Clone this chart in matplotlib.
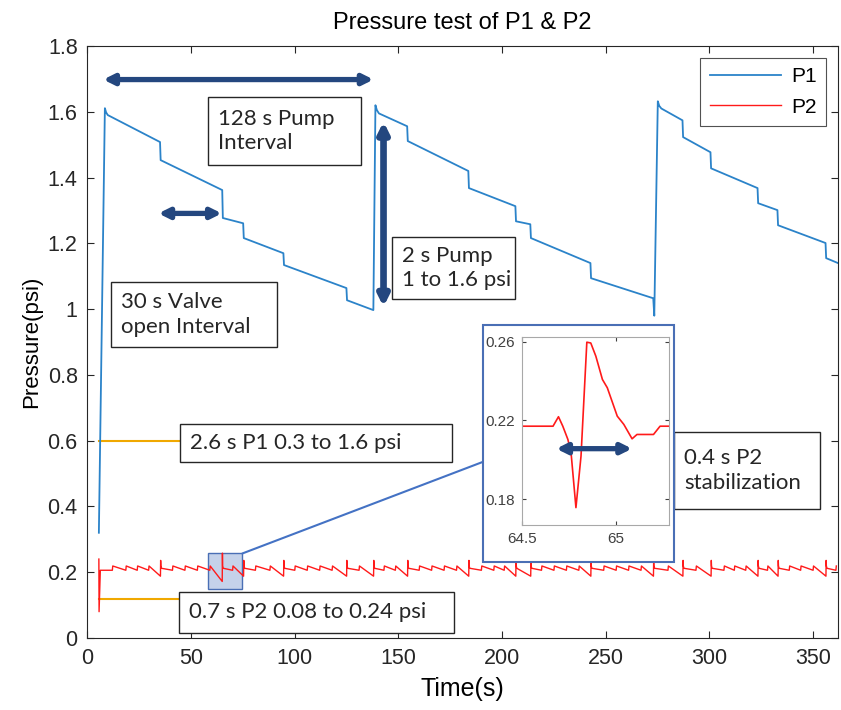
import matplotlib
matplotlib.use('Agg')
import matplotlib.pyplot as plt
from matplotlib.patches import Rectangle, ConnectionPatch

# P1 pressure trace, breakpoints (time s, psi)
p1_t = [5.5, 8.4, 9.0, 9.8, 35.0, 35.3, 65.0, 65.3, 75.1, 75.4, 94.5, 94.8,
        124.9, 125.2, 137.9, 138.9, 139.6, 140.6, 154.2, 154.5, 183.7, 184.0,
        206.4, 206.7, 213.6, 213.9, 242.6, 242.9, 272.9, 273.4, 275.1, 275.8,
        276.8, 287.0, 287.3, 300.5, 300.8, 323.2, 323.5, 332.8, 333.1, 356.0,
        356.3, 362.0]
p1_v = [0.32, 1.611, 1.598, 1.59, 1.508, 1.453, 1.362, 1.277, 1.261, 1.216,
        1.17, 1.134, 1.064, 1.027, 0.997, 1.62, 1.605, 1.595, 1.556, 1.511,
        1.42, 1.368, 1.313, 1.267, 1.258, 1.216, 1.14, 1.094, 1.033, 0.98,
        1.632, 1.618, 1.61, 1.574, 1.523, 1.477, 1.428, 1.368, 1.322, 1.301,
        1.255, 1.201, 1.155, 1.14]

# P2: valve-open spikes and small sawtooth teeth (times in s)
p2_start = [0.24, 0.08]
p2_spike_t = [35.2, 65.0, 75.3, 94.6, 125.0, 138.0, 154.4, 183.9, 206.6,
              213.8, 242.8, 273.0, 287.2, 300.8, 323.4, 333.1, 356.2]
p2_tooth_t = [12, 18.5, 24, 29.5, 41, 47, 53, 59, 70, 81, 88, 100, 106, 112,
              118, 131, 143, 148.5, 160, 166, 172, 178, 190, 196, 201, 219,
              225, 231, 237, 249, 255, 261, 267, 280, 293.5, 307, 312, 317.5,
              328, 338.5, 344, 350, 361]
p2_low, p2_high = 0.206, 0.219
p2_spike_hi, p2_spike_lo = 0.236, 0.188

# zoomed P2 event around t = 65 s
z_t = [64.509, 64.667, 64.696, 64.719, 64.746, 64.763, 64.789, 64.816, 64.847,
       64.868, 64.895, 64.93, 64.956, 65.009, 65.044, 65.088, 65.114, 65.202,
       65.237, 65.286]
z_v = [0.2171, 0.2171, 0.2219, 0.2171, 0.2104, 0.2036, 0.1758, 0.2019, 0.2597,
       0.2593, 0.2526, 0.2408, 0.2366, 0.2222, 0.218, 0.2107, 0.2129, 0.2129,
       0.2171, 0.2171]

# build P2 path from the events
p2_t = [5.5, 5.6, 6.2]
p2_v = [p2_start[0], p2_start[1], p2_low]
events = sorted([(t, 's') for t in p2_spike_t] + [(t, 't') for t in p2_tooth_t])
for t, kind in events:
    if kind == 's':
        hi, lo = (0.258, 0.172) if t == 65.0 else (p2_spike_hi, p2_spike_lo)
        p2_t += [t, t + 0.1, t + 0.2, t + 0.5]
        p2_v += [lo, hi, p2_high, p2_low + 0.006]
    else:
        p2_t += [t, t + 0.2]
        p2_v += [p2_low, p2_high]

blue = '#2b83c9'
red = '#ff1a1a'
navy = '#24477f'
yellow = '#f0a800'
txt_font = 'Lato'

plt.rcParams['font.family'] = ['Liberation Sans', 'DejaVu Sans']
fig = plt.figure(figsize=(8.41, 7.10), dpi=100)
ax = fig.add_axes([0.104, 0.1014, 0.8924, 0.8338])

ax.plot(p1_t, p1_v, color=blue, lw=1.3, label='P1', zorder=2)
ax.plot(p2_t, p2_v, color=red, lw=1.0, label='P2', zorder=2.5)

ax.set_xlim(0, 362)
ax.set_ylim(0, 1.8)
ax.set_xticks([0, 50, 100, 150, 200, 250, 300, 350])
ax.set_yticks([0, 0.2, 0.4, 0.6, 0.8, 1.0, 1.2, 1.4, 1.6, 1.8])
ax.set_yticklabels(['0', '0.2', '0.4', '0.6', '0.8', '1', '1.2', '1.4', '1.6', '1.8'])
ax.tick_params(direction='in', top=True, right=True, labelsize=15.5,
               colors='#262626', length=5)
ax.tick_params(axis='x', pad=7)
ax.tick_params(axis='y', pad=7)
for s in ax.spines.values():
    s.set_color('#262626')
    s.set_linewidth(0.8)
ax.set_xlabel('Time(s)', fontsize=18, labelpad=6)
ax.set_ylabel('Pressure(psi)', fontsize=16, labelpad=4)
ax.set_title('Pressure test of P1 & P2', fontsize=17, pad=12)

leg = ax.legend(loc='upper right', bbox_to_anchor=(0.984, 0.98), fontsize=15,
                handlelength=3.4, frameon=True, fancybox=False,
                borderaxespad=0, borderpad=0.45, labelspacing=0.55,
                handletextpad=0.5)
leg.get_frame().set_edgecolor('#262626')
leg.get_frame().set_linewidth(0.8)

arrow = dict(arrowstyle='<|-|>', color=navy, lw=3.8, mutation_scale=15,
             shrinkA=0, shrinkB=0)
ax.annotate('', xy=(7.6, 1.698), xytext=(138.0, 1.698), arrowprops=arrow)
ax.annotate('', xy=(34.2, 1.291), xytext=(64.8, 1.291), arrowprops=arrow)
ax.annotate('', xy=(142.8, 1.57), xytext=(142.8, 1.007),
            arrowprops=dict(arrow, lw=4.8))

# yellow guides
ax.plot([5.5, 44.6], [0.6, 0.6], color=yellow, lw=1.5, zorder=1.8)
ax.plot([5.5, 44.2], [0.12, 0.12], color=yellow, lw=1.5, zorder=1.8)

def note(x0, x1, y0, y1, lines):
    ax.add_patch(Rectangle((x0, y0), x1 - x0, y1 - y0, facecolor='white',
                           edgecolor='#262626', lw=1.0, zorder=4))
    ax.text(x0 + 4.8, (y0 + y1) / 2, lines,
            fontsize=16, family=txt_font, color='#262626', va='center',
            ha='left', linespacing=1.3, zorder=5)

note(58.3, 131.9, 1.438, 1.645, '128 s Pump\nInterval')
note(11.2, 91.5, 0.884, 1.083, '30 s Valve\nopen Interval')
note(147.1, 206.0, 1.03, 1.22, '2 s Pump\n1 to 1.6 psi')
note(44.6, 175.9, 0.535, 0.650, '2.6 s P1 0.3 to 1.6 psi')
note(44.2, 176.9, 0.016, 0.141, '0.7 s P2 0.08 to 0.24 psi')
note(283.0, 353.5, 0.392, 0.626, '0.4 s P2\nstabilization')

# zoom marker on the main axes
ax.add_patch(Rectangle((58.3, 0.149), 16.4, 0.108, facecolor='#c5d2ea',
                       edgecolor='#4a6fb5', lw=1.0, zorder=1.5))

# inset frame and inset axes
fig.patches.append(Rectangle((0.5747, 0.2089), 0.2268, 0.3334,
                             transform=fig.transFigure, facecolor='white',
                             edgecolor='#4a6fb5', lw=1.5, zorder=2))
con = ConnectionPatch(xyA=(74.7, 0.257), coordsA=ax.transData,
                      xyB=(0.5747, 0.3497), coordsB=fig.transFigure,
                      color='#4472c4', lw=1.5, zorder=2)
fig.add_artist(con)

axi = fig.add_axes([0.6203, 0.2606, 0.1755, 0.2652], zorder=3)
axi.plot(z_t, z_v, color=red, lw=1.2)
axi.set_xlim(64.5, 65.286)
axi.set_ylim(0.167, 0.2625)
axi.set_xticks([64.5, 65])
axi.set_xticklabels(['64.5', '65'])
axi.set_yticks([0.18, 0.22, 0.26])
axi.tick_params(direction='in', top=True, right=True, labelsize=11,
                colors='#404040', length=3, pad=5)
for s in axi.spines.values():
    s.set_color('#a8a8a8')
axi.annotate('', xy=(64.684, 0.2057), xytext=(65.088, 0.2057),
             arrowprops=dict(arrow, lw=3.8))

fig.savefig('out.png', dpi=100)
